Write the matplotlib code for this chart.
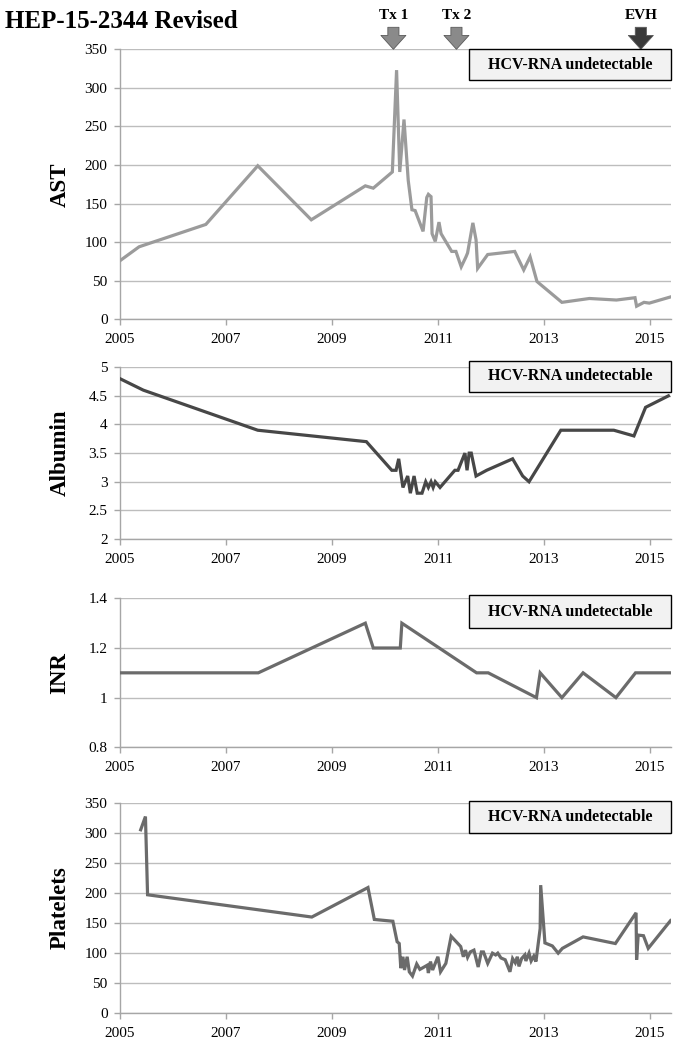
import matplotlib
matplotlib.use('Agg')
import matplotlib.pyplot as plt
from matplotlib.patches import Rectangle

plt.rcParams['font.family'] = ['Liberation Serif', 'DejaVu Serif']

# Data (decimal years)
ast_date = [2005.0, 2005.36, 2006.62, 2007.6, 2008.61, 2009.63, 2009.78, 2010.14,
            2010.22, 2010.28, 2010.36, 2010.44, 2010.51, 2010.57, 2010.72, 2010.79,
            2010.82, 2010.87, 2010.89, 2010.95, 2011.02, 2011.06, 2011.26, 2011.34,
            2011.44, 2011.53, 2011.56, 2011.66, 2011.72, 2011.75, 2011.94, 2012.45,
            2012.62, 2012.74, 2012.87, 2013.34, 2013.86, 2014.37, 2014.72, 2014.75,
            2014.89, 2014.99, 2015.39]
ast_val = [76, 94, 123, 199, 129, 173, 170, 191, 323, 191, 259, 180, 142, 141, 114, 158,
           162, 159, 111, 101, 126, 111, 88, 88, 68, 81, 86, 125, 103, 66, 84, 88,
           64, 81, 49, 22, 27, 25, 28, 17, 22, 21, 29]

alb_date = [2005.0, 2005.44, 2007.6, 2009.65, 2010.13, 2010.21, 2010.26, 2010.34,
            2010.43, 2010.48, 2010.55, 2010.61, 2010.70, 2010.77, 2010.82, 2010.87,
            2010.91, 2010.95, 2011.04, 2011.32, 2011.38, 2011.51, 2011.55, 2011.59,
            2011.63, 2011.72, 2011.92, 2012.41, 2012.60, 2012.72, 2013.32, 2014.32,
            2014.70, 2014.92, 2015.35]
alb_val = [4.8, 4.6, 3.9, 3.7, 3.2, 3.2, 3.4, 2.9, 3.1, 2.8, 3.1, 2.8, 2.8, 3.0, 2.9, 3.0,
           2.9, 3.0, 2.9, 3.2, 3.2, 3.5, 3.2, 3.5, 3.5, 3.1, 3.2, 3.4, 3.1, 3.0, 3.9, 3.9,
           3.8, 4.3, 4.5]

inr_date = [2005.0, 2007.61, 2009.63, 2009.78, 2010.29, 2010.32, 2011.73, 2011.95,
            2012.86, 2012.93, 2013.34, 2013.74, 2014.36, 2014.73, 2015.39]
inr_val = [1.1, 1.1, 1.3, 1.2, 1.2, 1.3, 1.1, 1.1, 1.0, 1.1, 1.0, 1.1, 1.0, 1.1, 1.1]

plt_date = [2005.39, 2005.48, 2005.52, 2008.62, 2009.68, 2009.80, 2010.15, 2010.23,
            2010.27, 2010.30, 2010.34, 2010.37, 2010.42, 2010.46, 2010.52, 2010.60,
            2010.66, 2010.80, 2010.82, 2010.86, 2010.90, 2011.0, 2011.05, 2011.15,
            2011.25, 2011.43, 2011.48, 2011.52, 2011.56, 2011.61, 2011.68, 2011.76,
            2011.82, 2011.86, 2011.94, 2012.03, 2012.09, 2012.13, 2012.19, 2012.27,
            2012.36, 2012.41, 2012.46, 2012.50, 2012.53, 2012.58, 2012.64, 2012.66,
            2012.72, 2012.76, 2012.81, 2012.85, 2012.93, 2012.94, 2013.02, 2013.16,
            2013.27, 2013.35, 2013.74, 2014.35, 2014.74, 2014.75, 2014.78, 2014.88,
            2014.97, 2015.39]
plt_val = [305, 327, 197, 160, 209, 156, 153, 119, 116, 75, 94, 72, 94, 69, 62, 82,
           73, 80, 67, 86, 72, 94, 69, 83, 128, 111, 94, 105, 93, 102, 105, 77,
           102, 102, 83, 100, 97, 100, 92, 89, 69, 91, 84, 94, 78, 91, 97, 87,
           100, 87, 95, 86, 141, 213, 117, 112, 100, 108, 127, 116, 167, 89, 130, 129,
           108, 154]

event_names = ['Tx 1', 'Tx 2', 'EVH']
event_dates = [2010.16, 2011.35, 2014.83]
event_colours = ['#8a8a8a', '#8a8a8a', '#3a3a3a']

year_ticks = [2005, 2007, 2009, 2011, 2013, 2015]
box_text = 'HCV-RNA undetectable'

# panel settings: (dates, values, label, colour, ylim, yticks, ylabels, axes rect, box y range)
panels = [
    (ast_date, ast_val, 'AST', '#9b9b9b', (0, 350), list(range(0, 351, 50)),
     None, [0.1752, 0.6956, 0.8044, 0.2574], (0.886, 1.0)),
    (alb_date, alb_val, 'Albumin', '#474747', (2, 5), [2, 2.5, 3, 3.5, 4, 4.5, 5],
     ['2', '2.5', '3', '3.5', '4', '4.5', '5'], [0.1752, 0.4862, 0.8044, 0.1637], (0.858, 1.038)),
    (inr_date, inr_val, 'INR', '#6b6b6b', (0.8, 1.4), [0.8, 1.0, 1.2, 1.4],
     ['0.8', '1', '1.2', '1.4'], [0.1752, 0.2876, 0.8044, 0.1420], (0.799, 1.022)),
    (plt_date, plt_val, 'Platelets', '#6b6b6b', (0, 350), list(range(0, 351, 50)),
     None, [0.1752, 0.0340, 0.8044, 0.2008], (0.858, 1.006)),
]

fig = plt.figure(figsize=(6.85, 10.49), dpi=100)

axes = []
for dates, vals, label, col, ylim, yticks, ylabels, rect, boxy in panels:
    ax = fig.add_axes(rect)
    ax.plot(dates, vals, color=col, lw=2.3, solid_joinstyle='miter', zorder=3)
    ax.set_xlim(2005, 2015.4)
    ax.set_ylim(*ylim)
    ax.set_xticks(year_ticks)
    ax.set_xticklabels([str(y) for y in year_ticks])
    ax.set_yticks(yticks)
    if ylabels is not None:
        ax.set_yticklabels(ylabels)
    ax.yaxis.grid(True, color='#bdbdbd', lw=1.0)
    ax.set_axisbelow(True)
    for s in ['top', 'right']:
        ax.spines[s].set_visible(False)
    for s in ['left', 'bottom']:
        ax.spines[s].set_color('#a6a6a6')
        ax.spines[s].set_linewidth(1.0)
    ax.tick_params(axis='both', direction='out', length=4, width=1.0, color='#a6a6a6',
                   labelsize=11)
    ax.tick_params(axis='x', pad=6)
    ax.tick_params(axis='y', pad=5)
    ax.set_ylabel(label, fontsize=16.5, fontweight='bold')
    ax.yaxis.set_label_coords(-0.09, 0.5)

    # HCV-RNA box
    ax.add_patch(Rectangle((0.633, boxy[0]), 0.367, boxy[1] - boxy[0],
                           transform=ax.transAxes, facecolor='#f2f2f2',
                           edgecolor='black', lw=1.0, clip_on=False, zorder=5))
    ax.text(0.8165, (boxy[0] + boxy[1]) / 2, box_text, transform=ax.transAxes,
            ha='center', va='center', fontsize=11.5, fontweight='bold', zorder=6)
    axes.append(ax)

# event arrows over AST panel
ax0 = axes[0]
for name, d, c in zip(event_names, event_dates, event_colours):
    ax0.annotate('', xy=(d, 350), xycoords='data', xytext=(0, 22),
                 textcoords='offset pixels', annotation_clip=False,
                 arrowprops=dict(width=8, headwidth=18, headlength=10,
                                 facecolor=c, edgecolor='#5a5a5a', lw=0.6, shrink=0))
    ax0.annotate(name, xy=(d, 350), xycoords='data', xytext=(0, 27),
                 textcoords='offset pixels', annotation_clip=False,
                 ha='center', va='bottom', fontsize=11, fontweight='bold')

fig.text(0.008, 0.99, 'HEP-15-2344 Revised', fontsize=18, fontweight='bold',
         ha='left', va='top')

plt.savefig('out.png', dpi=100)
